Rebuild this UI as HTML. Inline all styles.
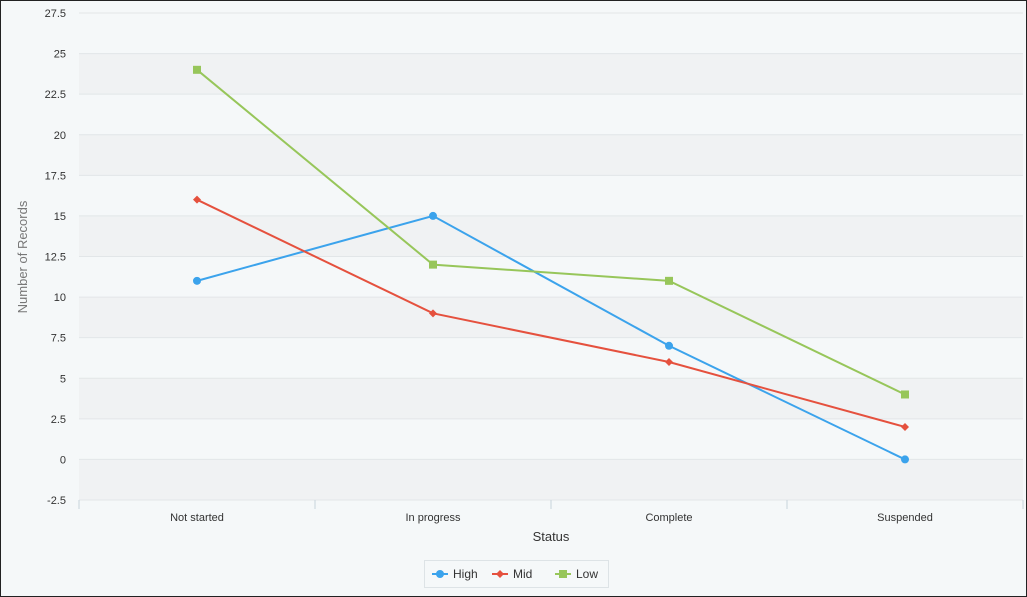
<!DOCTYPE html>
<html><head><meta charset="utf-8"><style>
html,body{margin:0;padding:0;background:#f5f8f9}
#wrap{position:relative;width:1027px;height:597px;box-sizing:border-box;border:1px solid #222;background:#f5f8f9;overflow:hidden}
svg{position:absolute;left:0;top:0}
text{font-family:"Liberation Sans",sans-serif}
</style></head><body>
<div id="wrap">
<svg id="chart" width="1027" height="597"></svg>
</div>
<script>
const categories=["Not started","In progress","Complete","Suspended"];
const seriesNames=["High","Mid","Low"];
const highValues=[11,15,7,0];
const midValues=[16,9,6,2];
const lowValues=[24,12,11,4];
const yTicks=[-2.5,0,2.5,5,7.5,10,12.5,15,17.5,20,22.5,25,27.5];
const colors=["#3ba3ec","#e5513e","#97c65a"];
const NS="http://www.w3.org/2000/svg";
const svg=document.getElementById('chart');
const x0=78,x1=1022,yTop=12,yBot=499,vMin=-2.5,vMax=27.5;
const bw=(x1-x0)/categories.length;
function xs(i){return x0+bw*(i+0.5);}
function ys(v){return yBot-(v-vMin)/(vMax-vMin)*(yBot-yTop);}
function mk(t,a,p){const e=document.createElementNS(NS,t);for(const k in a)e.setAttribute(k,a[k]);(p||svg).appendChild(e);return e;}
for(let i=0;i<yTicks.length-1;i++){
  if(i%2===0){
    const r=mk('rect',{x:x0,y:ys(yTicks[i+1]),width:x1-x0,height:ys(yTicks[i])-ys(yTicks[i+1]),fill:'#f0f2f3'});
    
    
  }
}
yTicks.forEach(v=>{
  const l=mk('line',{x1:x0,x2:x1,y1:ys(v),y2:ys(v),stroke:'#e2e6e8','stroke-width':1});
  
  
  const t=mk('text',{x:65,y:ys(v)+4,'text-anchor':'end','font-size':11,fill:'#333'});
  t.textContent=v;
  
  
});
for(let i=0;i<=categories.length;i++){
  const l=mk('line',{x1:x0+bw*i,x2:x0+bw*i,y1:yBot,y2:yBot+9,stroke:'#c8d3dc'});
  
  
}
categories.forEach((c,i)=>{
  const t=mk('text',{x:xs(i),y:520,'text-anchor':'middle','font-size':11,fill:'#333'});
  t.textContent=c;
  
  
});
let t=mk('text',{x:550,y:540,'text-anchor':'middle','font-size':13,fill:'#333'});t.textContent='Status';


t=mk('text',{x:0,y:0,transform:'translate(26,256) rotate(-90)','text-anchor':'middle','font-size':13,fill:'#777'});t.textContent='Number of Records';


function marker(k,x,y,g){
  if(k===0)return mk('circle',{cx:x,cy:y,r:4,fill:colors[0]},g);
  if(k===1)return mk('path',{d:`M${x} ${y-4}L${x+4} ${y}L${x} ${y+4}L${x-4} ${y}Z`,fill:colors[1]},g);
  return mk('rect',{x:x-4,y:y-4,width:8,height:8,fill:colors[2]},g);
}
[highValues,midValues,lowValues].forEach((vals,k)=>{
  const g=mk('g',{});
  
  
  const p=mk('polyline',{points:vals.map((v,i)=>xs(i)+','+ys(v)).join(' '),fill:'none',stroke:colors[k],'stroke-width':2},g);
  
  
  vals.forEach((v,i)=>{
    const m=marker(k,xs(i),ys(v),g);
    
    
  });
});
const lg=mk('g',{});


mk('rect',{x:423.5,y:559.5,width:184,height:27,fill:'#f5f8f9',stroke:'#dde3e6'},lg);
const lx=[431,491,554];
seriesNames.forEach((n,k)=>{
  const e=mk('g',{},lg);
  
  
  mk('line',{x1:lx[k],x2:lx[k]+16,y1:573,y2:573,stroke:colors[k],'stroke-width':2},e);
  marker(k,lx[k]+8,573,e);
  const tt=mk('text',{x:lx[k]+21,y:577,'font-size':12,fill:'#333'},e);tt.textContent=n;
});
</script>
</body></html>
